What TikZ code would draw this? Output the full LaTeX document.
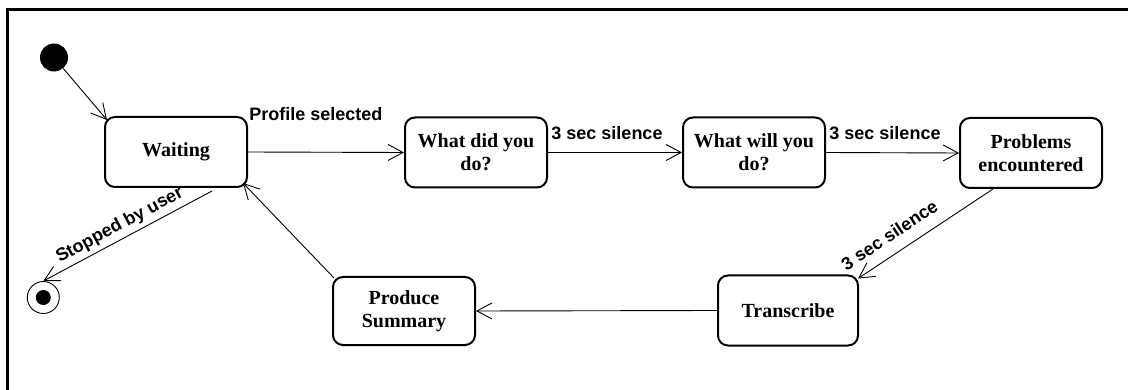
\documentclass[tikz,border=0pt]{standalone}
\usepackage{fontspec}
\setmainfont{Liberation Serif}
\newfontfamily\labelfont{Liberation Sans}
\usetikzlibrary{arrows.meta,calc}

\begin{document}
\begin{tikzpicture}[x=1pt,y=-1pt,
  state/.style={draw, line width=2pt, rounded corners=10pt,
    minimum width=142pt, minimum height=70pt, inner sep=0pt, align=center,
    font=\fontsize{20}{23}\selectfont\bfseries},
  tr/.style={line width=0.9pt,
    -{Straight Barb[length=15pt,width=16pt,line width=0.9pt]}},
  lbl/.style={font=\labelfont\bfseries\fontsize{18}{20}\selectfont, inner sep=0pt},
  slbl/.style={lbl, sloped, above, text depth=0pt, inner xsep=0pt}]

\useasboundingbox (0,0) rectangle (1128,390);

% diagram frame (top and left edges)
\draw[line width=2.6pt] (7.3,390) -- (7.3,9.3) -- (1128,9.3);

% pseudo-states
\node[circle, fill, minimum size=28pt, inner sep=0pt] (init) at (54,57.5) {};
\node[circle, draw, line width=0.9pt, minimum size=32pt, inner sep=0pt] (final) at (43.3,297.5) {};
\node[circle, fill, minimum size=15pt, inner sep=0pt] (finaldot) at (final.center) {};

% states
\node[state] (Waiting)  at (176,152)   {Waiting};
\node[state] (WhatDid)  at (476,152.5) {What did you\\do?};
\node[state] (WhatWill) at (754,152.5) {What will you\\do?};
\node[state] (Problems) at (1031,153)  {Problems\\encountered};
\node[state, minimum width=140pt] (Transcribe) at (788,310.5) {Transcribe};
\node[state, minimum height=68pt] (Produce) at (404,311) {Produce\\Summary};

% transitions
\draw[tr] (init) -- ([shift={(3,4)}]Waiting.north west);

\draw[tr] (Waiting.east) --
  node[lbl, pos=0, anchor=base west, xshift=1pt, yshift=31pt] {Profile selected}
  (WhatDid.west);

\draw[tr] (WhatDid.east) --
  node[lbl, pos=0, anchor=base west, xshift=3pt, yshift=13pt] {3 sec silence}
  (WhatWill.west);

\draw[tr] (WhatWill.east) --
  node[lbl, pos=0, anchor=base west, xshift=3pt, yshift=13pt] {3 sec silence}
  (Problems.west);

\draw[tr] ([shift={(-38,0)}]Problems.south) --
  node[slbl, inner ysep=12pt, pos=0.69] {3 sec silence}
  ([shift={(-1,4)}]Transcribe.north east);

\draw[tr] (Transcribe.west) -- (Produce.east);

\draw[tr] ([shift={(2,2)}]Produce.north west) -- ([shift={(-5,-5)}]Waiting.south east);

\draw[tr] ([shift={(36,3)}]Waiting.south) --
  node[slbl, inner ysep=8pt, pos=0.51] {Stopped by user}
  (final.north);

\end{tikzpicture}
\end{document}
